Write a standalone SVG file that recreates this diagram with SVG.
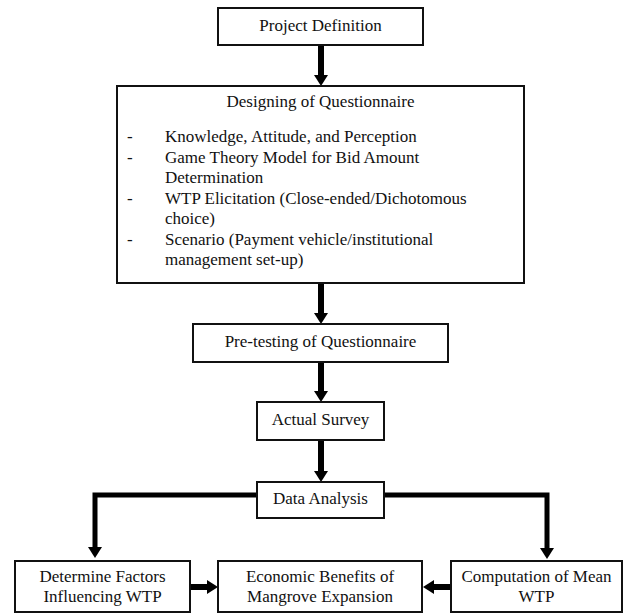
<svg xmlns="http://www.w3.org/2000/svg" width="624" height="614" viewBox="0 0 624 614">
<defs>
<marker id="ah" markerUnits="userSpaceOnUse" markerWidth="11" markerHeight="14" refX="0" refY="7" orient="auto" overflow="visible">
<path d="M0,0 L11,7 L0,14 z" fill="#000"/>
</marker>
<style>
.box{fill:#fff;stroke:#111;stroke-width:2}
.t{font-family:"Liberation Serif","Times New Roman",serif;font-size:17px;fill:#111}
.c{text-anchor:middle}
.arr{fill:none;stroke:#000;stroke-width:6;marker-end:url(#ah)}
.arr2{fill:none;stroke:#000;stroke-width:5;stroke-linejoin:miter;marker-end:url(#ah)}
</style>
</defs>
<rect width="624" height="614" fill="#fff"/>
<g id="connectors">
<line class="arr" x1="321" y1="45" x2="321" y2="75"/>
<line class="arr" x1="321" y1="283" x2="321" y2="313"/>
<line class="arr" x1="321" y1="362" x2="321" y2="391"/>
<line class="arr" x1="321" y1="440" x2="321" y2="471"/>
<path class="arr2" d="M256,495 H95 V547"/>
<path class="arr2" d="M384,495 H547 V548"/>
<line class="arr" x1="190" y1="587" x2="207" y2="587"/>
<line class="arr" x1="451" y1="587" x2="434" y2="587"/>
</g>
<g id="project-definition">
<rect class="box" x="218" y="8" width="205" height="37"/>
<text class="t c" x="320.5" y="31">Project Definition</text>
</g>
<g id="designing-questionnaire">
<rect class="box" x="117" y="86" width="407" height="197"/>
<text class="t c" x="320.5" y="107">Designing of Questionnaire</text>
<text class="t" x="127" y="142">-</text>
<text class="t" x="165" y="142">Knowledge, Attitude, and Perception</text>
<text class="t" x="127" y="162.5">-</text>
<text class="t" x="165" y="162.5">Game Theory Model for Bid Amount</text>
<text class="t" x="165" y="183">Determination</text>
<text class="t" x="127" y="203.5">-</text>
<text class="t" x="165" y="203.5">WTP Elicitation (Close-ended/Dichotomous</text>
<text class="t" x="165" y="224">choice)</text>
<text class="t" x="127" y="244.5">-</text>
<text class="t" x="165" y="244.5">Scenario (Payment vehicle/institutional</text>
<text class="t" x="165" y="265">management set-up)</text>
</g>
<g id="pre-testing">
<rect class="box" x="193" y="324" width="255" height="38"/>
<text class="t c" x="320.5" y="347">Pre-testing of Questionnaire</text>
</g>
<g id="actual-survey">
<rect class="box" x="257" y="402" width="127" height="38"/>
<text class="t c" x="320.5" y="425">Actual Survey</text>
</g>
<g id="data-analysis">
<rect class="box" x="257" y="482" width="127" height="36"/>
<text class="t c" x="320.5" y="504">Data Analysis</text>
</g>
<g id="determine-factors">
<rect class="box" x="15" y="561" width="175" height="51"/>
<text class="t c" x="102.5" y="582">Determine Factors</text>
<text class="t c" x="102.5" y="602">Influencing WTP</text>
</g>
<g id="economic-benefits">
<rect class="box" x="218" y="561" width="204" height="51"/>
<text class="t c" x="320" y="582">Economic Benefits of</text>
<text class="t c" x="320" y="602">Mangrove Expansion</text>
</g>
<g id="computation-mean">
<rect class="box" x="451" y="561" width="171" height="51"/>
<text class="t c" x="536.5" y="582">Computation of Mean</text>
<text class="t c" x="536.5" y="602">WTP</text>
</g>
</svg>
